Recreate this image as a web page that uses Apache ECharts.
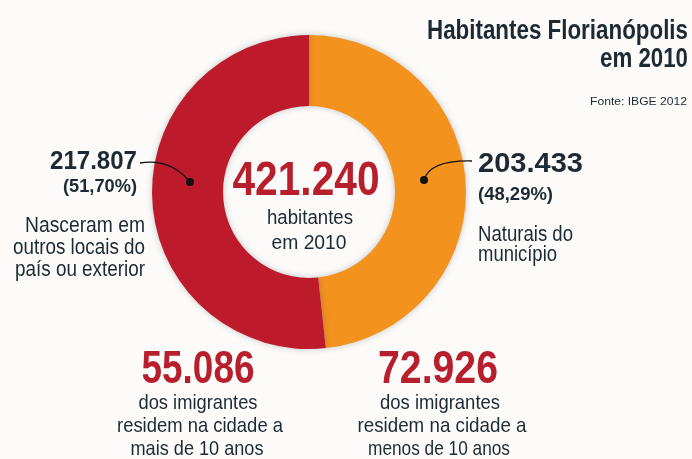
<!DOCTYPE html>
<html>
<head>
<meta charset="utf-8">
<script src="https://cdn.jsdelivr.net/npm/echarts@6/dist/echarts.min.js"></script>
<style>
  html, body { margin: 0; padding: 0; background: #fcfbf9; }
  #chart { width: 692px; height: 459px; }
</style>
</head>
<body>
<div id="chart"></div>
<script>
// dados
const sliceNames = ['Naturais do município', 'Nasceram em outros locais do país ou exterior'];
const sliceValues = [203433, 217807];
const sliceValueLabels = ['203.433', '217.807'];
const slicePct = ['48,29%', '51,70%'];
const sliceColors = ['#f4921e', '#bd1a2c'];
const totalLabel = '421.240';
const imigrantes = ['55.086', '72.926'];
const imigrantesTxt = [
  ['dos imigrantes', 'residem na cidade a', 'mais de 10 anos'],
  ['dos imigrantes', 'residem na cidade a', 'menos de 10 anos']
];

const FAM = "'Liberation Sans', Arial, sans-serif";
const dark = '#1d2a33';
const red = '#b81f2d';

var measureCtx = document.createElement('canvas').getContext('2d');

// texto "condensado": mede e comprime para a largura alvo
function T(text, x, base, fs, align, w, bold, color) {
  measureCtx.font = (bold ? 'bold ' : '') + fs + 'px ' + FAM;
  var mw = measureCtx.measureText(text).width;
  return {
    type: 'text',
    x: x,
    y: base - fs * 0.32,
    scaleX: w / mw,
    z: 100,
    silent: true,
    style: {
      text: text,
      fontSize: fs,
      fontFamily: FAM,
      fontWeight: bold ? 'bold' : 'normal',
      fill: color || dark,
      align: align,
      verticalAlign: 'middle'
    }
  };
}

var myChart = echarts.init(document.getElementById('chart'));

var graphics = [
  // titulo
  T('Habitantes Florianópolis', 688, 40, 28, 'right', 261, true),
  T('em 2010', 688, 68, 28, 'right', 88, true),
  T('Fonte: IBGE 2012', 687, 105, 11, 'right', 97, false),
  // centro
  T(totalLabel, 306, 197, 49, 'center', 147, true, red),
  T('habitantes', 310, 225, 20, 'center', 86, false),
  T('em 2010', 309, 250, 20, 'center', 75, false),
  // esquerda
  T(sliceValueLabels[1], 137, 170, 25, 'right', 87, true),
  T('(' + slicePct[1] + ')', 137, 193, 18, 'right', 74, true),
  T('Nasceram em', 145, 233, 22, 'right', 120, false),
  T('outros locais do', 145, 255, 22, 'right', 132, false),
  T('país ou exterior', 145, 277, 22, 'right', 130, false),
  // direita
  T(sliceValueLabels[0], 478, 173, 28, 'left', 105, true),
  T('(' + slicePct[0] + ')', 478, 201, 18, 'left', 75, true),
  T('Naturais do', 478, 242, 22, 'left', 95, false),
  T('município', 478, 262, 22, 'left', 79, false),
  // linhas de chamada
  {
    type: 'bezierCurve', z: 100, silent: true,
    shape: { x1: 140, y1: 163, cpx1: 170, cpy1: 158, x2: 190, y2: 182 },
    style: { stroke: '#111', lineWidth: 1.3, fill: null }
  },
  { type: 'circle', z: 100, silent: true, shape: { cx: 190, cy: 182, r: 4 }, style: { fill: '#111' } },
  {
    type: 'bezierCurve', z: 100, silent: true,
    shape: { x1: 424, y1: 180, cpx1: 430, cpy1: 160, x2: 472, y2: 161 },
    style: { stroke: '#111', lineWidth: 1.3, fill: null }
  },
  { type: 'circle', z: 100, silent: true, shape: { cx: 424, cy: 180, r: 4 }, style: { fill: '#111' } },
  // rodape
  T(imigrantes[0], 198, 385, 46, 'center', 113, true, red),
  T(imigrantes[1], 438, 385, 46, 'center', 120, true, red)
];

var lineW = [[119, 166, 133], [120, 169, 142]];
var lineX = [[198, 200, 197], [440, 442, 439]];
var lineBase = [410, 433, 456];
imigrantesTxt.forEach(function (lines, k) {
  lines.forEach(function (s, i) {
    graphics.push(T(s, lineX[k][i], lineBase[i], 21, 'center', lineW[k][i], false));
  });
});

var option = {
  backgroundColor: '#fcfbf9',
  animation: false,
  series: [
    {
      type: 'pie',
      center: [309, 192],
      radius: [86, 157],
      startAngle: 90,
      clockwise: true,
      silent: true,
      label: { show: false },
      labelLine: { show: false },
      itemStyle: { shadowBlur: 6, shadowColor: 'rgba(60,70,80,0.3)' },
      data: sliceValues.map(function (v, i) {
        return { name: sliceNames[i], value: v, itemStyle: { color: sliceColors[i] } };
      })
    }
  ],
  graphic: graphics
};

option && myChart.setOption(option);
</script>
</body>
</html>
